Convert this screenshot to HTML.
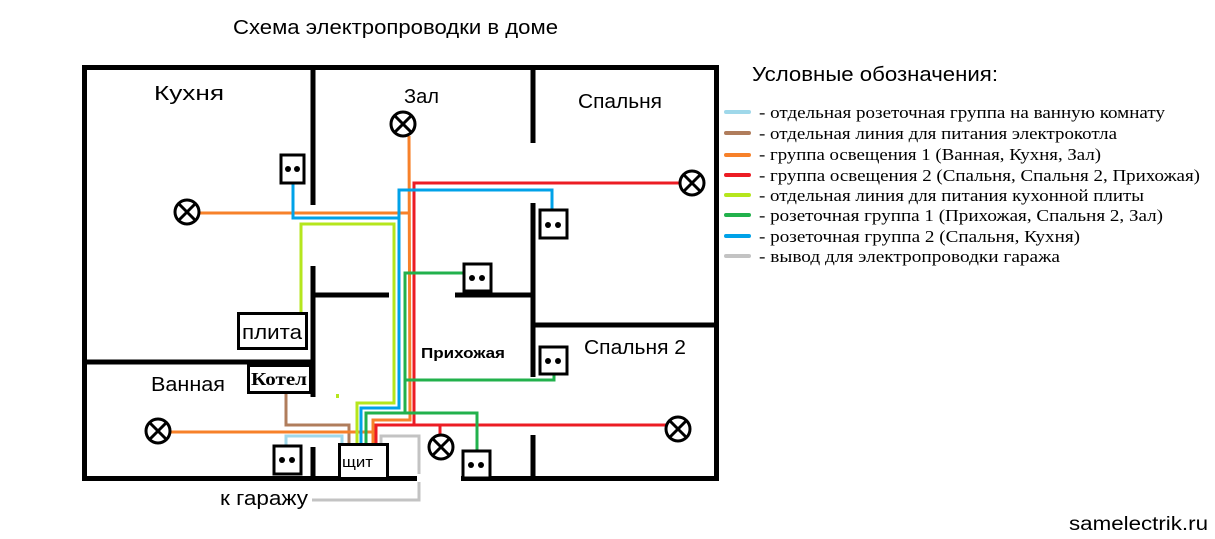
<!DOCTYPE html>
<html><head><meta charset="utf-8"><style>
body{margin:0;background:#fff;}
svg{display:block}
.s{font-family:"Liberation Sans","DejaVu Sans",sans-serif;}
.r{font-family:"Liberation Serif",serif;}
</style></head><body>
<svg width="1215" height="539" viewBox="0 0 1215 539" xmlns="http://www.w3.org/2000/svg">
<rect width="1215" height="539" fill="#fff"/>
<text x="233" y="34" class="s" font-size="20" fill="#000" textLength="325" lengthAdjust="spacingAndGlyphs">Схема электропроводки в доме</text>
<text x="752" y="81" class="s" font-size="20" fill="#000" textLength="246" lengthAdjust="spacingAndGlyphs">Условные обозначения:</text>
<g stroke-width="4" stroke-linecap="round">
<line x1="726" y1="112" x2="749" y2="112" stroke="#9fd8ea"/>
<line x1="726" y1="133" x2="749" y2="133" stroke="#b07d5c"/>
<line x1="726" y1="155" x2="749" y2="155" stroke="#f7812a"/>
<line x1="726" y1="175" x2="749" y2="175" stroke="#ec1c24"/>
<line x1="726" y1="195" x2="749" y2="195" stroke="#b5e61d"/>
<line x1="726" y1="215" x2="749" y2="215" stroke="#22b14c"/>
<line x1="726" y1="236" x2="749" y2="236" stroke="#00a2e8"/>
<line x1="726" y1="256" x2="749" y2="256" stroke="#c3c3c3"/>
</g>
<g class="r" font-size="17" fill="#000" lengthAdjust="spacingAndGlyphs">
<text x="759" y="118" textLength="406" lengthAdjust="spacingAndGlyphs">- отдельная розеточная группа на ванную комнату</text>
<text x="759" y="139" textLength="358" lengthAdjust="spacingAndGlyphs">- отдельная линия для питания электрокотла</text>
<text x="759" y="160" textLength="342" lengthAdjust="spacingAndGlyphs">- группа освещения 1 (Ванная, Кухня, Зал)</text>
<text x="759" y="181" textLength="441" lengthAdjust="spacingAndGlyphs">- группа освещения 2 (Спальня, Спальня 2, Прихожая)</text>
<text x="759" y="201" textLength="385" lengthAdjust="spacingAndGlyphs">- отдельная линия для питания кухонной плиты</text>
<text x="759" y="221" textLength="404" lengthAdjust="spacingAndGlyphs">- розеточная группа 1 (Прихожая, Спальня 2, Зал)</text>
<text x="759" y="242" textLength="321" lengthAdjust="spacingAndGlyphs">- розеточная группа 2 (Спальня, Кухня)</text>
<text x="759" y="262" textLength="301" lengthAdjust="spacingAndGlyphs">- вывод для электропроводки гаража</text>
</g>
<text x="1069" y="530" class="s" font-size="19" fill="#000" textLength="139" lengthAdjust="spacingAndGlyphs">samelectrik.ru</text>

<!-- wires -->
<g fill="none" stroke-width="3">
<polyline stroke="#c3c3c3" points="381,444 381,436 419,436 419,500 312,500"/>
<polyline stroke="#9fd8ea" points="286,445 286,436 342,436 342,444"/>
<polyline stroke="#b07d5c" points="286,393 286,425 349,425 349,444"/>
<polyline stroke="#f7812a" points="199,213 410,213"/>
<polyline stroke="#f7812a" points="409,136 410,420 373,420 373,444"/>
<polyline stroke="#f7812a" points="170,432 372,432"/>
<polyline stroke="#ec1c24" points="680,183 414,183 414,425"/>
<polyline stroke="#ec1c24" points="376,444 376,425 666,425"/>
<polyline stroke="#ec1c24" points="440,425 440,436"/>
<polyline stroke="#00a2e8" points="293,183 293,218 399,218"/>
<polyline stroke="#00a2e8" points="552,209 552,190 399,190 399,408 361,408 361,444"/>
<polyline stroke="#b5e61d" points="301,313 301,224 394,224 394,403 357,403 357,444"/>
<polyline stroke="#22b14c" points="463,273 405,273 405,413"/>
<polyline stroke="#22b14c" points="405,380 554,380 554,374"/>
<polyline stroke="#22b14c" points="366,444 366,413 477,413 477,450"/>
</g>
<rect x="336" y="394" width="3" height="4" fill="#b5e61d"/>

<!-- walls -->
<g stroke="#000" stroke-width="5" fill="none">
<rect x="84.5" y="67.5" width="632" height="411"/>
<line x1="313" y1="67" x2="313" y2="205"/>
<line x1="313" y1="266" x2="313" y2="397"/>
<line x1="83" y1="362" x2="313" y2="362"/>
<line x1="313" y1="295" x2="389" y2="295"/>
<line x1="455" y1="295" x2="533" y2="295"/>
<line x1="533" y1="67" x2="533" y2="143"/>
<line x1="533" y1="203" x2="533" y2="377"/>
<line x1="533" y1="325" x2="717" y2="325"/>
<line x1="533" y1="435" x2="533" y2="479"/>
<line x1="313" y1="447" x2="313" y2="479"/>
</g>
<rect x="417" y="474" width="44" height="8" fill="#fff"/>

<!-- sockets -->
<g stroke="#000" stroke-width="3" fill="#fff">
<rect x="281" y="155" width="23" height="28"/>
<rect x="540" y="210" width="27" height="28"/>
<rect x="464" y="264" width="27" height="27"/>
<rect x="540" y="347" width="27" height="27"/>
<rect x="274" y="446" width="27" height="28"/>
<rect x="463" y="451" width="27" height="27"/>
</g>
<g fill="#000">
<circle cx="288" cy="169" r="3"/><circle cx="297" cy="169" r="3"/>
<circle cx="548" cy="225" r="3"/><circle cx="558" cy="225" r="3"/>
<circle cx="472" cy="278" r="3"/><circle cx="482" cy="278" r="3"/>
<circle cx="548" cy="361" r="3"/><circle cx="558" cy="361" r="3"/>
<circle cx="282" cy="460" r="3"/><circle cx="292" cy="460" r="3"/>
<circle cx="471" cy="465" r="3"/><circle cx="481" cy="465" r="3"/>
</g>
<!-- lamps -->
<g stroke="#000" stroke-width="3" fill="#fff">
<g transform="translate(187,212)"><circle r="12"/><path d="M-8,-8L8,8M8,-8L-8,8"/></g>
<g transform="translate(403,124)"><circle r="12"/><path d="M-8,-8L8,8M8,-8L-8,8"/></g>
<g transform="translate(692,183)"><circle r="12"/><path d="M-8,-8L8,8M8,-8L-8,8"/></g>
<g transform="translate(678,429)"><circle r="12"/><path d="M-8,-8L8,8M8,-8L-8,8"/></g>
<g transform="translate(158,431)"><circle r="12"/><path d="M-8,-8L8,8M8,-8L-8,8"/></g>
<g transform="translate(441,447)"><circle r="12"/><path d="M-8,-8L8,8M8,-8L-8,8"/></g>
</g>
<!-- boxes -->
<g stroke="#000" stroke-width="3" fill="#fff">
<rect x="238.5" y="313.5" width="68" height="35"/>
<rect x="248.5" y="365.5" width="62" height="27"/>
<rect x="339.5" y="444.5" width="48" height="34"/>
</g>
<text x="242" y="339" class="s" font-size="20" textLength="60" lengthAdjust="spacingAndGlyphs">плита</text>
<text x="251" y="385" class="r" font-size="18" font-weight="bold" textLength="56" lengthAdjust="spacingAndGlyphs">Котел</text>
<text x="342" y="467" class="s" font-size="15" textLength="31" lengthAdjust="spacingAndGlyphs">щит</text>

<g class="s" font-size="20" fill="#000">
<text x="154" y="100" textLength="70" lengthAdjust="spacingAndGlyphs">Кухня</text>
<text x="404" y="103" textLength="35" lengthAdjust="spacingAndGlyphs">Зал</text>
<text x="578" y="108" textLength="84" lengthAdjust="spacingAndGlyphs">Спальня</text>
<text x="584" y="354" textLength="102" lengthAdjust="spacingAndGlyphs">Спальня 2</text>
<text x="151" y="391" textLength="74" lengthAdjust="spacingAndGlyphs">Ванная</text>
<text x="220" y="505" textLength="88" lengthAdjust="spacingAndGlyphs">к гаражу</text>
</g>
<text x="421" y="358" class="s" font-size="15" font-weight="bold" textLength="84" lengthAdjust="spacingAndGlyphs">Прихожая</text>
</svg>
</body></html>
